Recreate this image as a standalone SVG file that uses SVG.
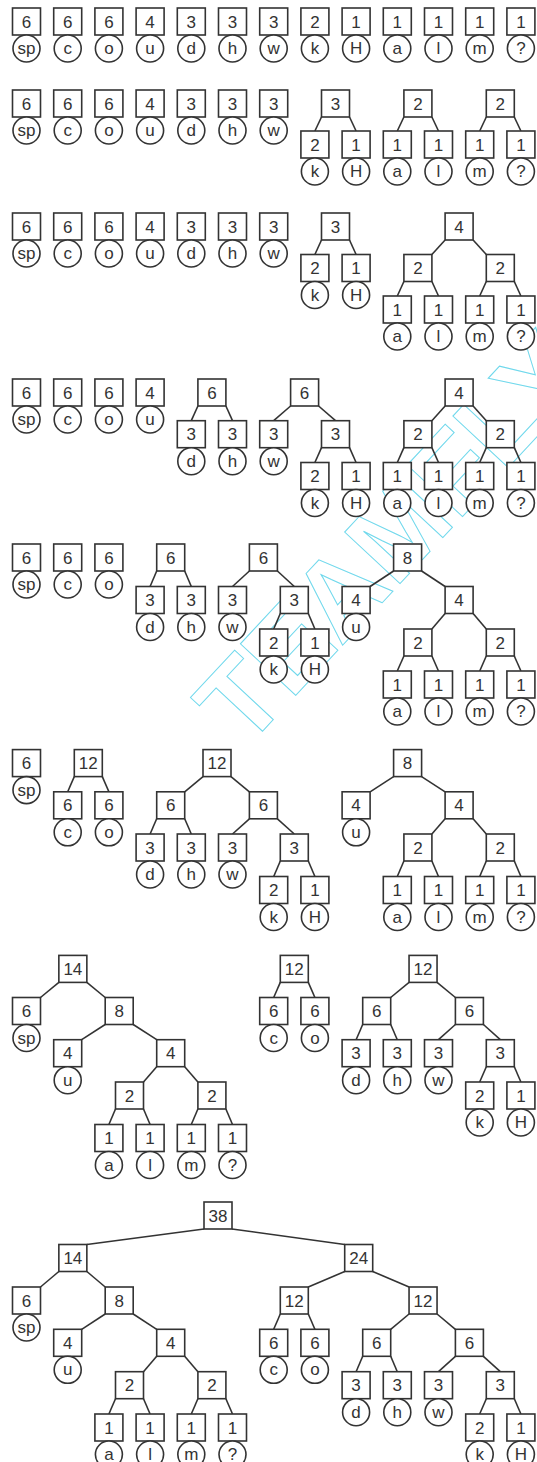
<svg xmlns="http://www.w3.org/2000/svg" width="537" height="1462" viewBox="0 0 537 1462">
<style>
.bx{fill:#fff;stroke:#333;stroke-width:1.6}
.cr{fill:#fff;stroke:#333;stroke-width:1.6}
.t{font-family:"Liberation Sans",Arial,sans-serif;font-size:17px;fill:#333;text-anchor:middle}
#edges line{stroke:#333;stroke-width:1.6}
.wm{font-family:"Liberation Sans",Arial,sans-serif;font-size:110px;font-weight:bold;fill:none;stroke:#6fd8ec;stroke-width:1}
</style>
<defs>
<rect id="B" class="bx" x="-14" y="0" width="28" height="27"/>
<circle id="C" class="cr" cx="0" cy="40.5" r="13.5"/>
</defs>
<rect width="537" height="1462" fill="#fff"/>
<text class="wm" transform="translate(245,750) rotate(-47)">TEAMFLY</text>
<g id="edges">
<line x1="321.5" y1="117" x2="314.9" y2="131"/><line x1="349.5" y1="117" x2="356.1" y2="131"/>
<line x1="403.9" y1="117" x2="397.3" y2="131"/><line x1="431.9" y1="117" x2="438.5" y2="131"/>
<line x1="486.3" y1="117" x2="479.7" y2="131"/><line x1="514.3" y1="117" x2="520.9" y2="131"/>
<line x1="321.5" y1="240" x2="314.9" y2="254.5"/><line x1="349.5" y1="240" x2="356.1" y2="254.5"/>
<line x1="445.1" y1="240" x2="431.9" y2="254.5"/><line x1="473.1" y1="240" x2="486.3" y2="254.5"/>
<line x1="403.9" y1="281.5" x2="397.3" y2="296"/><line x1="431.9" y1="281.5" x2="438.5" y2="296"/>
<line x1="486.3" y1="281.5" x2="479.7" y2="296"/><line x1="514.3" y1="281.5" x2="520.9" y2="296"/>
<line x1="197.9" y1="406" x2="191.3" y2="420.7"/><line x1="225.9" y1="406" x2="232.5" y2="420.7"/>
<line x1="290.6" y1="406" x2="273.7" y2="420.7"/><line x1="318.6" y1="406" x2="335.5" y2="420.7"/>
<line x1="321.5" y1="447.7" x2="314.9" y2="462.5"/><line x1="349.5" y1="447.7" x2="356.1" y2="462.5"/>
<line x1="445.1" y1="406" x2="431.9" y2="420.7"/><line x1="473.1" y1="406" x2="486.3" y2="420.7"/>
<line x1="403.9" y1="447.7" x2="397.3" y2="462.5"/><line x1="431.9" y1="447.7" x2="438.5" y2="462.5"/>
<line x1="486.3" y1="447.7" x2="479.7" y2="462.5"/><line x1="514.3" y1="447.7" x2="520.9" y2="462.5"/>
<line x1="156.7" y1="571" x2="150.1" y2="586.5"/><line x1="184.7" y1="571" x2="191.3" y2="586.5"/>
<line x1="249.4" y1="571" x2="232.5" y2="586.5"/><line x1="277.4" y1="571" x2="294.3" y2="586.5"/>
<line x1="280.3" y1="613.5" x2="273.7" y2="629"/><line x1="308.3" y1="613.5" x2="314.9" y2="629"/>
<line x1="393.6" y1="571" x2="370.1" y2="586.5"/><line x1="421.6" y1="571" x2="445.1" y2="586.5"/>
<line x1="445.1" y1="613.5" x2="431.9" y2="629"/><line x1="473.1" y1="613.5" x2="486.3" y2="629"/>
<line x1="403.9" y1="656" x2="397.3" y2="671"/><line x1="431.9" y1="656" x2="438.5" y2="671"/>
<line x1="486.3" y1="656" x2="479.7" y2="671"/><line x1="514.3" y1="656" x2="520.9" y2="671"/>
<line x1="74.3" y1="776.6" x2="67.7" y2="791.8"/><line x1="102.3" y1="776.6" x2="108.9" y2="791.8"/>
<line x1="203" y1="776.6" x2="184.7" y2="791.8"/><line x1="231" y1="776.6" x2="249.4" y2="791.8"/>
<line x1="156.7" y1="818.8" x2="150.1" y2="834"/><line x1="184.7" y1="818.8" x2="191.3" y2="834"/>
<line x1="249.4" y1="818.8" x2="232.5" y2="834"/><line x1="277.4" y1="818.8" x2="294.3" y2="834"/>
<line x1="280.3" y1="861" x2="273.7" y2="876.5"/><line x1="308.3" y1="861" x2="314.9" y2="876.5"/>
<line x1="393.6" y1="776.6" x2="370.1" y2="791.8"/><line x1="421.6" y1="776.6" x2="445.1" y2="791.8"/>
<line x1="445.1" y1="818.8" x2="431.9" y2="834"/><line x1="473.1" y1="818.8" x2="486.3" y2="834"/>
<line x1="403.9" y1="861" x2="397.3" y2="876.5"/><line x1="431.9" y1="861" x2="438.5" y2="876.5"/>
<line x1="486.3" y1="861" x2="479.7" y2="876.5"/><line x1="514.3" y1="861" x2="520.9" y2="876.5"/>
<line x1="58.85" y1="982.4" x2="40.5" y2="997.5"/><line x1="86.85" y1="982.4" x2="105.2" y2="997.5"/>
<line x1="105.2" y1="1024.5" x2="81.7" y2="1039.7"/><line x1="133.2" y1="1024.5" x2="156.7" y2="1039.7"/>
<line x1="156.7" y1="1066.7" x2="143.5" y2="1082"/><line x1="184.7" y1="1066.7" x2="197.9" y2="1082"/>
<line x1="115.5" y1="1109" x2="108.9" y2="1124.5"/><line x1="143.5" y1="1109" x2="150.1" y2="1124.5"/>
<line x1="197.9" y1="1109" x2="191.3" y2="1124.5"/><line x1="225.9" y1="1109" x2="232.5" y2="1124.5"/>
<line x1="280.3" y1="982.4" x2="273.7" y2="997.5"/><line x1="308.3" y1="982.4" x2="314.9" y2="997.5"/>
<line x1="409.05" y1="982.4" x2="390.7" y2="997.5"/><line x1="437.05" y1="982.4" x2="455.4" y2="997.5"/>
<line x1="362.7" y1="1024.5" x2="356.1" y2="1039.7"/><line x1="390.7" y1="1024.5" x2="397.3" y2="1039.7"/>
<line x1="455.4" y1="1024.5" x2="438.5" y2="1039.7"/><line x1="483.4" y1="1024.5" x2="500.3" y2="1039.7"/>
<line x1="486.3" y1="1066.7" x2="479.7" y2="1082"/><line x1="514.3" y1="1066.7" x2="520.9" y2="1082"/>
<line x1="204" y1="1229" x2="86.85" y2="1244.5"/><line x1="232" y1="1229" x2="344.7" y2="1244.5"/>
<line x1="58.85" y1="1271.5" x2="40.5" y2="1287"/><line x1="86.85" y1="1271.5" x2="105.2" y2="1287"/>
<line x1="105.2" y1="1314" x2="81.7" y2="1329.3"/><line x1="133.2" y1="1314" x2="156.7" y2="1329.3"/>
<line x1="156.7" y1="1356.3" x2="143.5" y2="1371.7"/><line x1="184.7" y1="1356.3" x2="197.9" y2="1371.7"/>
<line x1="115.5" y1="1398.7" x2="108.9" y2="1414"/><line x1="143.5" y1="1398.7" x2="150.1" y2="1414"/>
<line x1="197.9" y1="1398.7" x2="191.3" y2="1414"/><line x1="225.9" y1="1398.7" x2="232.5" y2="1414"/>
<line x1="344.7" y1="1271.5" x2="308.3" y2="1287"/><line x1="372.7" y1="1271.5" x2="409.05" y2="1287"/>
<line x1="280.3" y1="1314" x2="273.7" y2="1329.3"/><line x1="308.3" y1="1314" x2="314.9" y2="1329.3"/>
<line x1="409.05" y1="1314" x2="390.7" y2="1329.3"/><line x1="437.05" y1="1314" x2="455.4" y2="1329.3"/>
<line x1="362.7" y1="1356.3" x2="356.1" y2="1371.7"/><line x1="390.7" y1="1356.3" x2="397.3" y2="1371.7"/>
<line x1="455.4" y1="1356.3" x2="438.5" y2="1371.7"/><line x1="483.4" y1="1356.3" x2="500.3" y2="1371.7"/>
<line x1="486.3" y1="1398.7" x2="479.7" y2="1414"/><line x1="514.3" y1="1398.7" x2="520.9" y2="1414"/>
</g>
<!-- Row 1 -->
<g id="r1-sp" transform="translate(26.5,8)"><use href="#B"/><text class="t" y="19.5">6</text><use href="#C"/><text class="t" y="46">sp</text></g>
<g id="r1-c" transform="translate(67.7,8)"><use href="#B"/><text class="t" y="19.5">6</text><use href="#C"/><text class="t" y="46">c</text></g>
<g id="r1-o" transform="translate(108.9,8)"><use href="#B"/><text class="t" y="19.5">6</text><use href="#C"/><text class="t" y="46">o</text></g>
<g id="r1-u" transform="translate(150.1,8)"><use href="#B"/><text class="t" y="19.5">4</text><use href="#C"/><text class="t" y="46">u</text></g>
<g id="r1-d" transform="translate(191.3,8)"><use href="#B"/><text class="t" y="19.5">3</text><use href="#C"/><text class="t" y="46">d</text></g>
<g id="r1-h" transform="translate(232.5,8)"><use href="#B"/><text class="t" y="19.5">3</text><use href="#C"/><text class="t" y="46">h</text></g>
<g id="r1-w" transform="translate(273.7,8)"><use href="#B"/><text class="t" y="19.5">3</text><use href="#C"/><text class="t" y="46">w</text></g>
<g id="r1-k" transform="translate(314.9,8)"><use href="#B"/><text class="t" y="19.5">2</text><use href="#C"/><text class="t" y="46">k</text></g>
<g id="r1-H" transform="translate(356.1,8)"><use href="#B"/><text class="t" y="19.5">1</text><use href="#C"/><text class="t" y="46">H</text></g>
<g id="r1-a" transform="translate(397.3,8)"><use href="#B"/><text class="t" y="19.5">1</text><use href="#C"/><text class="t" y="46">a</text></g>
<g id="r1-l" transform="translate(438.5,8)"><use href="#B"/><text class="t" y="19.5">1</text><use href="#C"/><text class="t" y="46">l</text></g>
<g id="r1-m" transform="translate(479.7,8)"><use href="#B"/><text class="t" y="19.5">1</text><use href="#C"/><text class="t" y="46">m</text></g>
<g id="r1-q" transform="translate(520.9,8)"><use href="#B"/><text class="t" y="19.5">1</text><use href="#C"/><text class="t" y="46">?</text></g>
<!-- Row 2 -->
<g id="r2-sp" transform="translate(26.5,90)"><use href="#B"/><text class="t" y="19.5">6</text><use href="#C"/><text class="t" y="46">sp</text></g>
<g id="r2-c" transform="translate(67.7,90)"><use href="#B"/><text class="t" y="19.5">6</text><use href="#C"/><text class="t" y="46">c</text></g>
<g id="r2-o" transform="translate(108.9,90)"><use href="#B"/><text class="t" y="19.5">6</text><use href="#C"/><text class="t" y="46">o</text></g>
<g id="r2-u" transform="translate(150.1,90)"><use href="#B"/><text class="t" y="19.5">4</text><use href="#C"/><text class="t" y="46">u</text></g>
<g id="r2-d" transform="translate(191.3,90)"><use href="#B"/><text class="t" y="19.5">3</text><use href="#C"/><text class="t" y="46">d</text></g>
<g id="r2-h" transform="translate(232.5,90)"><use href="#B"/><text class="t" y="19.5">3</text><use href="#C"/><text class="t" y="46">h</text></g>
<g id="r2-w" transform="translate(273.7,90)"><use href="#B"/><text class="t" y="19.5">3</text><use href="#C"/><text class="t" y="46">w</text></g>
<g id="r2-kH" transform="translate(335.5,90)"><use href="#B"/><text class="t" y="19.5">3</text></g>
<g id="r2-k" transform="translate(314.9,131)"><use href="#B"/><text class="t" y="19.5">2</text><use href="#C"/><text class="t" y="46">k</text></g>
<g id="r2-H" transform="translate(356.1,131)"><use href="#B"/><text class="t" y="19.5">1</text><use href="#C"/><text class="t" y="46">H</text></g>
<g id="r2-al" transform="translate(417.9,90)"><use href="#B"/><text class="t" y="19.5">2</text></g>
<g id="r2-a" transform="translate(397.3,131)"><use href="#B"/><text class="t" y="19.5">1</text><use href="#C"/><text class="t" y="46">a</text></g>
<g id="r2-l" transform="translate(438.5,131)"><use href="#B"/><text class="t" y="19.5">1</text><use href="#C"/><text class="t" y="46">l</text></g>
<g id="r2-mq" transform="translate(500.3,90)"><use href="#B"/><text class="t" y="19.5">2</text></g>
<g id="r2-m" transform="translate(479.7,131)"><use href="#B"/><text class="t" y="19.5">1</text><use href="#C"/><text class="t" y="46">m</text></g>
<g id="r2-q" transform="translate(520.9,131)"><use href="#B"/><text class="t" y="19.5">1</text><use href="#C"/><text class="t" y="46">?</text></g>
<!-- Row 3 -->
<g id="r3-sp" transform="translate(26.5,213)"><use href="#B"/><text class="t" y="19.5">6</text><use href="#C"/><text class="t" y="46">sp</text></g>
<g id="r3-c" transform="translate(67.7,213)"><use href="#B"/><text class="t" y="19.5">6</text><use href="#C"/><text class="t" y="46">c</text></g>
<g id="r3-o" transform="translate(108.9,213)"><use href="#B"/><text class="t" y="19.5">6</text><use href="#C"/><text class="t" y="46">o</text></g>
<g id="r3-u" transform="translate(150.1,213)"><use href="#B"/><text class="t" y="19.5">4</text><use href="#C"/><text class="t" y="46">u</text></g>
<g id="r3-d" transform="translate(191.3,213)"><use href="#B"/><text class="t" y="19.5">3</text><use href="#C"/><text class="t" y="46">d</text></g>
<g id="r3-h" transform="translate(232.5,213)"><use href="#B"/><text class="t" y="19.5">3</text><use href="#C"/><text class="t" y="46">h</text></g>
<g id="r3-w" transform="translate(273.7,213)"><use href="#B"/><text class="t" y="19.5">3</text><use href="#C"/><text class="t" y="46">w</text></g>
<g id="r3-kH" transform="translate(335.5,213)"><use href="#B"/><text class="t" y="19.5">3</text></g>
<g id="r3-k" transform="translate(314.9,254.5)"><use href="#B"/><text class="t" y="19.5">2</text><use href="#C"/><text class="t" y="46">k</text></g>
<g id="r3-H" transform="translate(356.1,254.5)"><use href="#B"/><text class="t" y="19.5">1</text><use href="#C"/><text class="t" y="46">H</text></g>
<g id="r3-4" transform="translate(459.1,213)"><use href="#B"/><text class="t" y="19.5">4</text></g>
<g id="r3-al" transform="translate(417.9,254.5)"><use href="#B"/><text class="t" y="19.5">2</text></g>
<g id="r3-mq" transform="translate(500.3,254.5)"><use href="#B"/><text class="t" y="19.5">2</text></g>
<g id="r3-a" transform="translate(397.3,296)"><use href="#B"/><text class="t" y="19.5">1</text><use href="#C"/><text class="t" y="46">a</text></g>
<g id="r3-l" transform="translate(438.5,296)"><use href="#B"/><text class="t" y="19.5">1</text><use href="#C"/><text class="t" y="46">l</text></g>
<g id="r3-m" transform="translate(479.7,296)"><use href="#B"/><text class="t" y="19.5">1</text><use href="#C"/><text class="t" y="46">m</text></g>
<g id="r3-q" transform="translate(520.9,296)"><use href="#B"/><text class="t" y="19.5">1</text><use href="#C"/><text class="t" y="46">?</text></g>
<!-- Row 4 -->
<g id="r4-sp" transform="translate(26.5,379)"><use href="#B"/><text class="t" y="19.5">6</text><use href="#C"/><text class="t" y="46">sp</text></g>
<g id="r4-c" transform="translate(67.7,379)"><use href="#B"/><text class="t" y="19.5">6</text><use href="#C"/><text class="t" y="46">c</text></g>
<g id="r4-o" transform="translate(108.9,379)"><use href="#B"/><text class="t" y="19.5">6</text><use href="#C"/><text class="t" y="46">o</text></g>
<g id="r4-u" transform="translate(150.1,379)"><use href="#B"/><text class="t" y="19.5">4</text><use href="#C"/><text class="t" y="46">u</text></g>
<g id="r4-dh" transform="translate(211.9,379)"><use href="#B"/><text class="t" y="19.5">6</text></g>
<g id="r4-d" transform="translate(191.3,420.7)"><use href="#B"/><text class="t" y="19.5">3</text><use href="#C"/><text class="t" y="46">d</text></g>
<g id="r4-h" transform="translate(232.5,420.7)"><use href="#B"/><text class="t" y="19.5">3</text><use href="#C"/><text class="t" y="46">h</text></g>
<g id="r4-wkH" transform="translate(304.6,379)"><use href="#B"/><text class="t" y="19.5">6</text></g>
<g id="r4-w" transform="translate(273.7,420.7)"><use href="#B"/><text class="t" y="19.5">3</text><use href="#C"/><text class="t" y="46">w</text></g>
<g id="r4-kH" transform="translate(335.5,420.7)"><use href="#B"/><text class="t" y="19.5">3</text></g>
<g id="r4-k" transform="translate(314.9,462.5)"><use href="#B"/><text class="t" y="19.5">2</text><use href="#C"/><text class="t" y="46">k</text></g>
<g id="r4-H" transform="translate(356.1,462.5)"><use href="#B"/><text class="t" y="19.5">1</text><use href="#C"/><text class="t" y="46">H</text></g>
<g id="r4-4" transform="translate(459.1,379)"><use href="#B"/><text class="t" y="19.5">4</text></g>
<g id="r4-al" transform="translate(417.9,420.7)"><use href="#B"/><text class="t" y="19.5">2</text></g>
<g id="r4-mq" transform="translate(500.3,420.7)"><use href="#B"/><text class="t" y="19.5">2</text></g>
<g id="r4-a" transform="translate(397.3,462.5)"><use href="#B"/><text class="t" y="19.5">1</text><use href="#C"/><text class="t" y="46">a</text></g>
<g id="r4-l" transform="translate(438.5,462.5)"><use href="#B"/><text class="t" y="19.5">1</text><use href="#C"/><text class="t" y="46">l</text></g>
<g id="r4-m" transform="translate(479.7,462.5)"><use href="#B"/><text class="t" y="19.5">1</text><use href="#C"/><text class="t" y="46">m</text></g>
<g id="r4-q" transform="translate(520.9,462.5)"><use href="#B"/><text class="t" y="19.5">1</text><use href="#C"/><text class="t" y="46">?</text></g>
<!-- Row 5 -->
<g id="r5-sp" transform="translate(26.5,544)"><use href="#B"/><text class="t" y="19.5">6</text><use href="#C"/><text class="t" y="46">sp</text></g>
<g id="r5-c" transform="translate(67.7,544)"><use href="#B"/><text class="t" y="19.5">6</text><use href="#C"/><text class="t" y="46">c</text></g>
<g id="r5-o" transform="translate(108.9,544)"><use href="#B"/><text class="t" y="19.5">6</text><use href="#C"/><text class="t" y="46">o</text></g>
<g id="r5-dh" transform="translate(170.7,544)"><use href="#B"/><text class="t" y="19.5">6</text></g>
<g id="r5-d" transform="translate(150.1,586.5)"><use href="#B"/><text class="t" y="19.5">3</text><use href="#C"/><text class="t" y="46">d</text></g>
<g id="r5-h" transform="translate(191.3,586.5)"><use href="#B"/><text class="t" y="19.5">3</text><use href="#C"/><text class="t" y="46">h</text></g>
<g id="r5-wkH" transform="translate(263.4,544)"><use href="#B"/><text class="t" y="19.5">6</text></g>
<g id="r5-w" transform="translate(232.5,586.5)"><use href="#B"/><text class="t" y="19.5">3</text><use href="#C"/><text class="t" y="46">w</text></g>
<g id="r5-kH" transform="translate(294.3,586.5)"><use href="#B"/><text class="t" y="19.5">3</text></g>
<g id="r5-k" transform="translate(273.7,629)"><use href="#B"/><text class="t" y="19.5">2</text><use href="#C"/><text class="t" y="46">k</text></g>
<g id="r5-H" transform="translate(314.9,629)"><use href="#B"/><text class="t" y="19.5">1</text><use href="#C"/><text class="t" y="46">H</text></g>
<g id="r5-8" transform="translate(407.6,544)"><use href="#B"/><text class="t" y="19.5">8</text></g>
<g id="r5-u" transform="translate(356.1,586.5)"><use href="#B"/><text class="t" y="19.5">4</text><use href="#C"/><text class="t" y="46">u</text></g>
<g id="r5-4" transform="translate(459.1,586.5)"><use href="#B"/><text class="t" y="19.5">4</text></g>
<g id="r5-al" transform="translate(417.9,629)"><use href="#B"/><text class="t" y="19.5">2</text></g>
<g id="r5-mq" transform="translate(500.3,629)"><use href="#B"/><text class="t" y="19.5">2</text></g>
<g id="r5-a" transform="translate(397.3,671)"><use href="#B"/><text class="t" y="19.5">1</text><use href="#C"/><text class="t" y="46">a</text></g>
<g id="r5-l" transform="translate(438.5,671)"><use href="#B"/><text class="t" y="19.5">1</text><use href="#C"/><text class="t" y="46">l</text></g>
<g id="r5-m" transform="translate(479.7,671)"><use href="#B"/><text class="t" y="19.5">1</text><use href="#C"/><text class="t" y="46">m</text></g>
<g id="r5-q" transform="translate(520.9,671)"><use href="#B"/><text class="t" y="19.5">1</text><use href="#C"/><text class="t" y="46">?</text></g>
<!-- Row 6 -->
<g id="r6-sp" transform="translate(26.5,749.6)"><use href="#B"/><text class="t" y="19.5">6</text><use href="#C"/><text class="t" y="46">sp</text></g>
<g id="r6-co" transform="translate(88.3,749.6)"><use href="#B"/><text class="t" y="19.5">12</text></g>
<g id="r6-c" transform="translate(67.7,791.8)"><use href="#B"/><text class="t" y="19.5">6</text><use href="#C"/><text class="t" y="46">c</text></g>
<g id="r6-o" transform="translate(108.9,791.8)"><use href="#B"/><text class="t" y="19.5">6</text><use href="#C"/><text class="t" y="46">o</text></g>
<g id="r6-12" transform="translate(217,749.6)"><use href="#B"/><text class="t" y="19.5">12</text></g>
<g id="r6-dh" transform="translate(170.7,791.8)"><use href="#B"/><text class="t" y="19.5">6</text></g>
<g id="r6-d" transform="translate(150.1,834)"><use href="#B"/><text class="t" y="19.5">3</text><use href="#C"/><text class="t" y="46">d</text></g>
<g id="r6-h" transform="translate(191.3,834)"><use href="#B"/><text class="t" y="19.5">3</text><use href="#C"/><text class="t" y="46">h</text></g>
<g id="r6-wkH" transform="translate(263.4,791.8)"><use href="#B"/><text class="t" y="19.5">6</text></g>
<g id="r6-w" transform="translate(232.5,834)"><use href="#B"/><text class="t" y="19.5">3</text><use href="#C"/><text class="t" y="46">w</text></g>
<g id="r6-kH" transform="translate(294.3,834)"><use href="#B"/><text class="t" y="19.5">3</text></g>
<g id="r6-k" transform="translate(273.7,876.5)"><use href="#B"/><text class="t" y="19.5">2</text><use href="#C"/><text class="t" y="46">k</text></g>
<g id="r6-H" transform="translate(314.9,876.5)"><use href="#B"/><text class="t" y="19.5">1</text><use href="#C"/><text class="t" y="46">H</text></g>
<g id="r6-8" transform="translate(407.6,749.6)"><use href="#B"/><text class="t" y="19.5">8</text></g>
<g id="r6-u" transform="translate(356.1,791.8)"><use href="#B"/><text class="t" y="19.5">4</text><use href="#C"/><text class="t" y="46">u</text></g>
<g id="r6-4" transform="translate(459.1,791.8)"><use href="#B"/><text class="t" y="19.5">4</text></g>
<g id="r6-al" transform="translate(417.9,834)"><use href="#B"/><text class="t" y="19.5">2</text></g>
<g id="r6-mq" transform="translate(500.3,834)"><use href="#B"/><text class="t" y="19.5">2</text></g>
<g id="r6-a" transform="translate(397.3,876.5)"><use href="#B"/><text class="t" y="19.5">1</text><use href="#C"/><text class="t" y="46">a</text></g>
<g id="r6-l" transform="translate(438.5,876.5)"><use href="#B"/><text class="t" y="19.5">1</text><use href="#C"/><text class="t" y="46">l</text></g>
<g id="r6-m" transform="translate(479.7,876.5)"><use href="#B"/><text class="t" y="19.5">1</text><use href="#C"/><text class="t" y="46">m</text></g>
<g id="r6-q" transform="translate(520.9,876.5)"><use href="#B"/><text class="t" y="19.5">1</text><use href="#C"/><text class="t" y="46">?</text></g>
<!-- Row 7 -->
<g id="r7-14" transform="translate(72.85,955.4)"><use href="#B"/><text class="t" y="19.5">14</text></g>
<g id="r7-sp" transform="translate(26.5,997.5)"><use href="#B"/><text class="t" y="19.5">6</text><use href="#C"/><text class="t" y="46">sp</text></g>
<g id="r7-8" transform="translate(119.2,997.5)"><use href="#B"/><text class="t" y="19.5">8</text></g>
<g id="r7-u" transform="translate(67.7,1039.7)"><use href="#B"/><text class="t" y="19.5">4</text><use href="#C"/><text class="t" y="46">u</text></g>
<g id="r7-4" transform="translate(170.7,1039.7)"><use href="#B"/><text class="t" y="19.5">4</text></g>
<g id="r7-al" transform="translate(129.5,1082)"><use href="#B"/><text class="t" y="19.5">2</text></g>
<g id="r7-mq" transform="translate(211.9,1082)"><use href="#B"/><text class="t" y="19.5">2</text></g>
<g id="r7-a" transform="translate(108.9,1124.5)"><use href="#B"/><text class="t" y="19.5">1</text><use href="#C"/><text class="t" y="46">a</text></g>
<g id="r7-l" transform="translate(150.1,1124.5)"><use href="#B"/><text class="t" y="19.5">1</text><use href="#C"/><text class="t" y="46">l</text></g>
<g id="r7-m" transform="translate(191.3,1124.5)"><use href="#B"/><text class="t" y="19.5">1</text><use href="#C"/><text class="t" y="46">m</text></g>
<g id="r7-q" transform="translate(232.5,1124.5)"><use href="#B"/><text class="t" y="19.5">1</text><use href="#C"/><text class="t" y="46">?</text></g>
<g id="r7-co" transform="translate(294.3,955.4)"><use href="#B"/><text class="t" y="19.5">12</text></g>
<g id="r7-c" transform="translate(273.7,997.5)"><use href="#B"/><text class="t" y="19.5">6</text><use href="#C"/><text class="t" y="46">c</text></g>
<g id="r7-o" transform="translate(314.9,997.5)"><use href="#B"/><text class="t" y="19.5">6</text><use href="#C"/><text class="t" y="46">o</text></g>
<g id="r7-12" transform="translate(423.05,955.4)"><use href="#B"/><text class="t" y="19.5">12</text></g>
<g id="r7-dh" transform="translate(376.7,997.5)"><use href="#B"/><text class="t" y="19.5">6</text></g>
<g id="r7-d" transform="translate(356.1,1039.7)"><use href="#B"/><text class="t" y="19.5">3</text><use href="#C"/><text class="t" y="46">d</text></g>
<g id="r7-h" transform="translate(397.3,1039.7)"><use href="#B"/><text class="t" y="19.5">3</text><use href="#C"/><text class="t" y="46">h</text></g>
<g id="r7-wkH" transform="translate(469.4,997.5)"><use href="#B"/><text class="t" y="19.5">6</text></g>
<g id="r7-w" transform="translate(438.5,1039.7)"><use href="#B"/><text class="t" y="19.5">3</text><use href="#C"/><text class="t" y="46">w</text></g>
<g id="r7-kH" transform="translate(500.3,1039.7)"><use href="#B"/><text class="t" y="19.5">3</text></g>
<g id="r7-k" transform="translate(479.7,1082)"><use href="#B"/><text class="t" y="19.5">2</text><use href="#C"/><text class="t" y="46">k</text></g>
<g id="r7-H" transform="translate(520.9,1082)"><use href="#B"/><text class="t" y="19.5">1</text><use href="#C"/><text class="t" y="46">H</text></g>
<!-- Row 8 -->
<g id="r8-38" transform="translate(218,1202)"><use href="#B"/><text class="t" y="19.5">38</text></g>
<g id="r8-14" transform="translate(72.85,1244.5)"><use href="#B"/><text class="t" y="19.5">14</text></g>
<g id="r8-sp" transform="translate(26.5,1287)"><use href="#B"/><text class="t" y="19.5">6</text><use href="#C"/><text class="t" y="46">sp</text></g>
<g id="r8-8" transform="translate(119.2,1287)"><use href="#B"/><text class="t" y="19.5">8</text></g>
<g id="r8-u" transform="translate(67.7,1329.3)"><use href="#B"/><text class="t" y="19.5">4</text><use href="#C"/><text class="t" y="46">u</text></g>
<g id="r8-4" transform="translate(170.7,1329.3)"><use href="#B"/><text class="t" y="19.5">4</text></g>
<g id="r8-al" transform="translate(129.5,1371.7)"><use href="#B"/><text class="t" y="19.5">2</text></g>
<g id="r8-mq" transform="translate(211.9,1371.7)"><use href="#B"/><text class="t" y="19.5">2</text></g>
<g id="r8-a" transform="translate(108.9,1414)"><use href="#B"/><text class="t" y="19.5">1</text><use href="#C"/><text class="t" y="46">a</text></g>
<g id="r8-l" transform="translate(150.1,1414)"><use href="#B"/><text class="t" y="19.5">1</text><use href="#C"/><text class="t" y="46">l</text></g>
<g id="r8-m" transform="translate(191.3,1414)"><use href="#B"/><text class="t" y="19.5">1</text><use href="#C"/><text class="t" y="46">m</text></g>
<g id="r8-q" transform="translate(232.5,1414)"><use href="#B"/><text class="t" y="19.5">1</text><use href="#C"/><text class="t" y="46">?</text></g>
<g id="r8-24" transform="translate(358.7,1244.5)"><use href="#B"/><text class="t" y="19.5">24</text></g>
<g id="r8-co" transform="translate(294.3,1287)"><use href="#B"/><text class="t" y="19.5">12</text></g>
<g id="r8-c" transform="translate(273.7,1329.3)"><use href="#B"/><text class="t" y="19.5">6</text><use href="#C"/><text class="t" y="46">c</text></g>
<g id="r8-o" transform="translate(314.9,1329.3)"><use href="#B"/><text class="t" y="19.5">6</text><use href="#C"/><text class="t" y="46">o</text></g>
<g id="r8-12" transform="translate(423.05,1287)"><use href="#B"/><text class="t" y="19.5">12</text></g>
<g id="r8-dh" transform="translate(376.7,1329.3)"><use href="#B"/><text class="t" y="19.5">6</text></g>
<g id="r8-d" transform="translate(356.1,1371.7)"><use href="#B"/><text class="t" y="19.5">3</text><use href="#C"/><text class="t" y="46">d</text></g>
<g id="r8-h" transform="translate(397.3,1371.7)"><use href="#B"/><text class="t" y="19.5">3</text><use href="#C"/><text class="t" y="46">h</text></g>
<g id="r8-wkH" transform="translate(469.4,1329.3)"><use href="#B"/><text class="t" y="19.5">6</text></g>
<g id="r8-w" transform="translate(438.5,1371.7)"><use href="#B"/><text class="t" y="19.5">3</text><use href="#C"/><text class="t" y="46">w</text></g>
<g id="r8-kH" transform="translate(500.3,1371.7)"><use href="#B"/><text class="t" y="19.5">3</text></g>
<g id="r8-k" transform="translate(479.7,1414)"><use href="#B"/><text class="t" y="19.5">2</text><use href="#C"/><text class="t" y="46">k</text></g>
<g id="r8-H" transform="translate(520.9,1414)"><use href="#B"/><text class="t" y="19.5">1</text><use href="#C"/><text class="t" y="46">H</text></g>
</svg>
